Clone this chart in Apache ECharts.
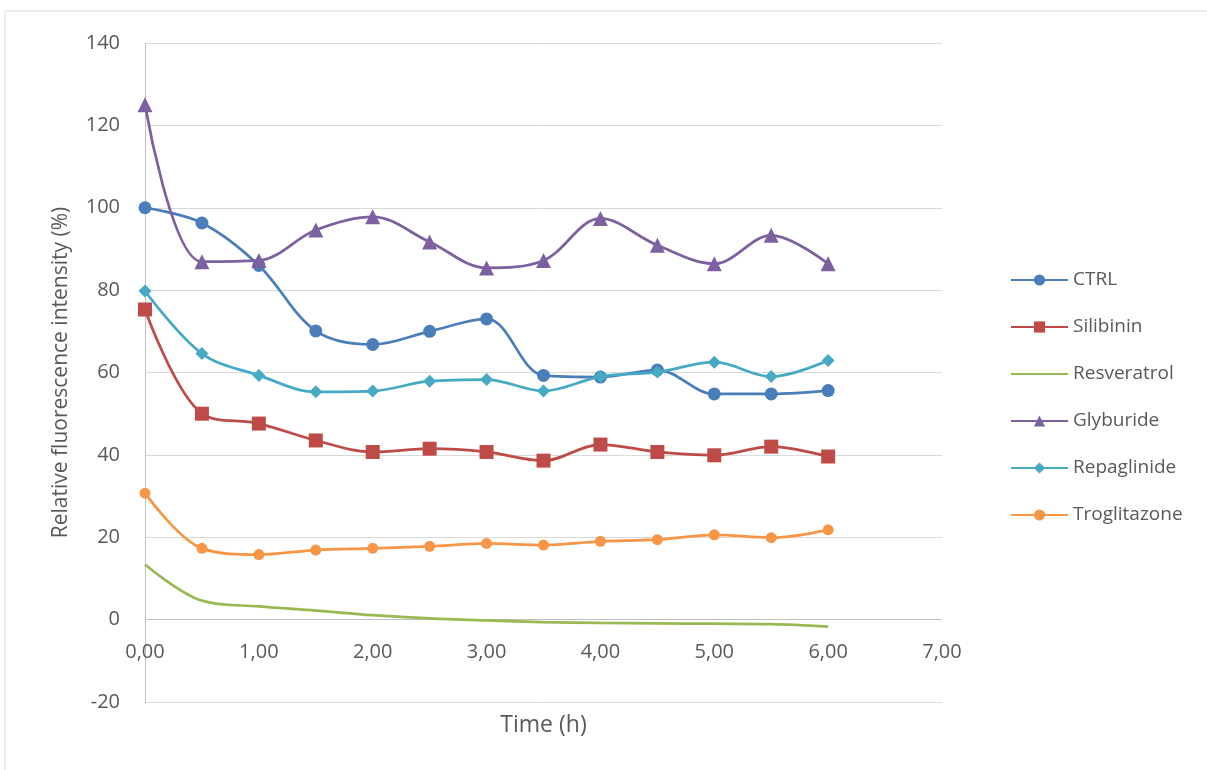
<!DOCTYPE html>
<html>
<head>
<meta charset="utf-8">
<script src="https://cdn.jsdelivr.net/npm/echarts@6/dist/echarts.min.js"></script>
<style>
html,body{margin:0;padding:0;background:#fff;}
#chart{width:1207px;height:770px;}
</style>
</head>
<body>
<div id="chart"></div>
<script>
var time = [0, 0.5, 1, 1.5, 2, 2.5, 3, 3.5, 4, 4.5, 5, 5.5, 6];
var seriesNames = ["CTRL", "Silibinin", "Resveratrol", "Glyburide", "Repaglinide", "Troglitazone"];
var ctrl = [100, 96.3, 86, 70.1, 66.8, 70, 73, 59.3, 58.9, 60.6, 54.8, 54.8, 55.6];
var silibinin = [75.3, 50, 47.6, 43.5, 40.7, 41.5, 40.7, 38.6, 42.5, 40.7, 39.9, 42, 39.6];
var resveratrol = [13.4, 4.6, 3.2, 2.2, 1.1, 0.3, -0.2, -0.6, -0.8, -0.9, -1.0, -1.1, -1.7];
var glyburide = [125, 86.9, 87.2, 94.6, 97.8, 91.7, 85.4, 87.2, 97.4, 90.9, 86.4, 93.3, 86.4];
var repaglinide = [79.8, 64.6, 59.3, 55.3, 55.5, 57.9, 58.3, 55.5, 59, 60.1, 62.5, 59, 62.9];
var troglitazone = [30.7, 17.3, 15.8, 16.9, 17.3, 17.8, 18.5, 18.1, 19, 19.4, 20.6, 19.9, 21.8];
var xTitle = "Time (h)";
var yTitle = "Relative fluorescence intensity (%)";

var values = [ctrl, silibinin, resveratrol, glyburide, repaglinide, troglitazone];
var colors = ["#4A7EBB", "#BE4B48", "#98B954", "#7D60A0", "#46AAC5", "#F79646"];
var symbols = ["circle", "rect", "none", "triangle", "diamond", "circle"];
var sizes = [13, 14, 0, 15, 13, 11];

function pairs(arr) {
  return time.map(function (t, i) { return [t, arr[i]]; });
}

var series = seriesNames.map(function (name, k) {
  return {
    name: name,
    type: "line",
    smooth: 0.35,
    data: pairs(values[k]),
    symbol: symbols[k],
    symbolSize: sizes[k],
    showSymbol: symbols[k] !== "none",
    lineStyle: { color: colors[k], width: 2.75 },
    itemStyle: { color: colors[k], borderColor: colors[k], borderWidth: 0 },
    z: 2 + k
  };
});

var legendData = seriesNames.map(function (name, k) {
  if (symbols[k] === "none") {
    return { name: name, itemStyle: { opacity: 0 } };
  }
  return { name: name };
});

var font = "'Open Sans', sans-serif";
var chart = echarts.init(document.getElementById("chart"));
chart.setOption({
  animation: false,
  backgroundColor: "#fff",
  color: colors,
  graphic: [{
    type: "rect",
    shape: { x: 5, y: 11, width: 1300, height: 900 },
    style: { fill: "none", stroke: "#D9D9D9", lineWidth: 1 },
    silent: true,
    z: -10
  }],
  grid: { left: 145, right: 265, top: 43, bottom: 68, containLabel: false, outerBoundsMode: "none" },
  legend: {
    orient: "vertical",
    left: 1005,
    top: 265,
    itemWidth: 57,
    itemHeight: 14,
    itemGap: 27,
    data: legendData,
    textStyle: { color: "#595959", fontSize: 19, fontFamily: font, lineHeight: 20 }
  },
  xAxis: {
    type: "value",
    min: 0,
    max: 7,
    interval: 1,
    name: xTitle,
    nameLocation: "middle",
    nameGap: 12,
    nameTextStyle: { color: "#595959", fontSize: 23, fontFamily: font, verticalAlign: "top" },
    axisLine: { show: false, onZero: false },
    axisTick: { show: false },
    axisLabel: {
      margin: -60,
      color: "#595959",
      fontSize: 20,
      fontFamily: font,
      verticalAlign: "top",
      formatter: function (v) { return v.toFixed(2).replace(".", ","); }
    },
    splitLine: { show: false }
  },
  yAxis: {
    type: "value",
    min: -20,
    max: 140,
    interval: 20,
    name: yTitle,
    nameLocation: "middle",
    nameRotate: 90,
    nameGap: 73,
    nameTextStyle: { color: "#595959", fontSize: 21, fontFamily: font },
    axisLine: { show: true, lineStyle: { color: "#BFBFBF", width: 1 } },
    axisTick: { show: false },
    axisLabel: { margin: 25, color: "#595959", fontSize: 20, fontFamily: font },
    splitLine: {
      show: true,
      lineStyle: {
        color: ["#D9D9D9", "#BFBFBF", "#D9D9D9", "#D9D9D9", "#D9D9D9", "#D9D9D9", "#D9D9D9", "#D9D9D9", "#D9D9D9"],
        width: 1
      }
    }
  },
  series: series
});
</script>
</body>
</html>
